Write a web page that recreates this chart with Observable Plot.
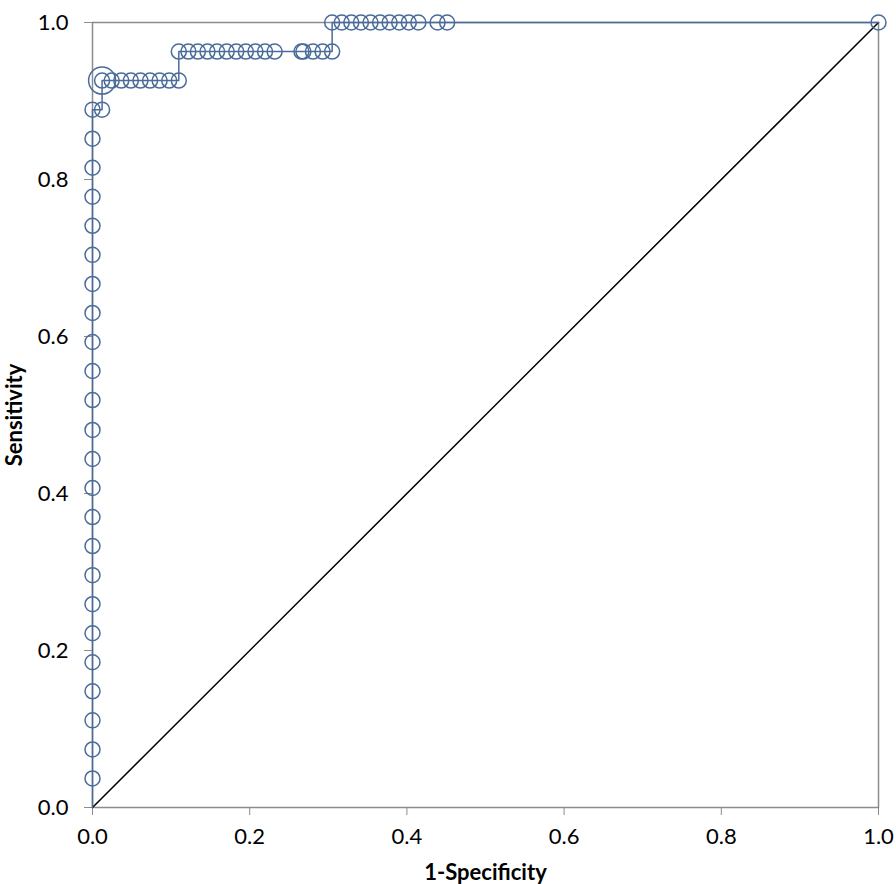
<!DOCTYPE html>
<html><head><meta charset="utf-8">
<script src="https://cdn.jsdelivr.net/npm/d3@7"></script>
<script src="https://cdn.jsdelivr.net/npm/@observablehq/plot@0.6"></script>
<style>
body{margin:0;background:#fff;}
#chart svg{display:block}
g[aria-label="x-axis label"] text, g[aria-label="y-axis label"] text {font-weight:bold}
</style></head><body><div id="chart"></div>
<script>
// ROC points: 1 - specificity (x) and sensitivity (y)
const fpr = [
  0,0,0,0,0,0,0,0,0,0,0,0,0,0,0,0,0,0,0,0,0,0,0,0,
  0.0122,
  0.0122,0.0244,0.0366,0.0488,0.0610,0.0732,0.0854,0.0976,0.1098,
  0.1098,0.1220,0.1341,0.1463,0.1585,0.1707,0.1829,0.1951,0.2073,0.2195,0.2317,
  0.2658,0.2683,0.2805,0.2927,0.3049,
  0.3049,0.3171,0.3293,0.3415,0.3537,0.3659,0.3780,0.3902,0.4024,0.4146,0.4390,0.4512,
  1
];
const sensitivity = [
  0.037,0.074,0.111,0.148,0.185,0.222,0.259,0.296,0.333,0.370,0.407,0.444,
  0.481,0.519,0.556,0.593,0.630,0.667,0.704,0.741,0.778,0.815,0.852,0.889,
  0.889,
  0.926,0.926,0.926,0.926,0.926,0.926,0.926,0.926,0.926,
  0.963,0.963,0.963,0.963,0.963,0.963,0.963,0.963,0.963,0.963,0.963,
  0.963,0.963,0.963,0.963,0.963,
  1,1,1,1,1,1,1,1,1,1,1,1,
  1
];
const curveStart = {fpr: 0, sens: 0};
const optimalFpr = [0.0122];
const optimalSens = [0.926];
const refX = [0, 1];
const refY = [0, 1];
const ticks = [0, 0.2, 0.4, 0.6, 0.8, 1.0];

const points = fpr.map((x, i) => ({fpr: x, sens: sensitivity[i]}));
const curve = [curveStart, ...points];
const optimal = optimalFpr.map((x, i) => ({fpr: x, sens: optimalSens[i]}));
const diag = refX.map((x, i) => ({x, y: refY[i]}));

const blue = "#4a6c9b";
const gray = "#8c8c8c";

const chart = Plot.plot({
  width: 896,
  height: 884,
  marginLeft: 92,
  marginRight: 18,
  marginTop: 22,
  marginBottom: 77,
  style: {fontFamily: "Lato, sans-serif", fontSize: "22px", background: "#fff", overflow: "visible"},
  x: {domain: [0, 1]},
  y: {domain: [0, 1]},
  marks: [
    Plot.frame({stroke: gray, strokeWidth: 1.5}),
    Plot.axisX(ticks, {tickFormat: d => d.toFixed(1), tickSize: 8, tickPadding: 13, fontSize: 22, stroke: gray, fill: "#000",
      label: "1-Specificity", labelAnchor: "center", labelArrow: "none", labelOffset: 72}),
    Plot.axisY(ticks, {tickFormat: d => d.toFixed(1), tickSize: 8, tickPadding: 16, fontSize: 22, stroke: gray, fill: "#000",
      label: "Sensitivity", labelAnchor: "center", labelArrow: "none", labelOffset: 86}),
    Plot.line(diag, {x: "x", y: "y", stroke: "#000", strokeWidth: 1.5}),
    Plot.line(curve, {x: "fpr", y: "sens", stroke: blue, strokeWidth: 1.5}),
    Plot.dot(points, {x: "fpr", y: "sens", r: 7.5, stroke: blue, strokeWidth: 1.5, fill: "none"}),
    Plot.dot(optimal, {x: "fpr", y: "sens", r: 13.5, stroke: blue, strokeWidth: 1.5, fill: "none"})
  ]
});
document.getElementById("chart").appendChild(chart);
</script></body></html>
